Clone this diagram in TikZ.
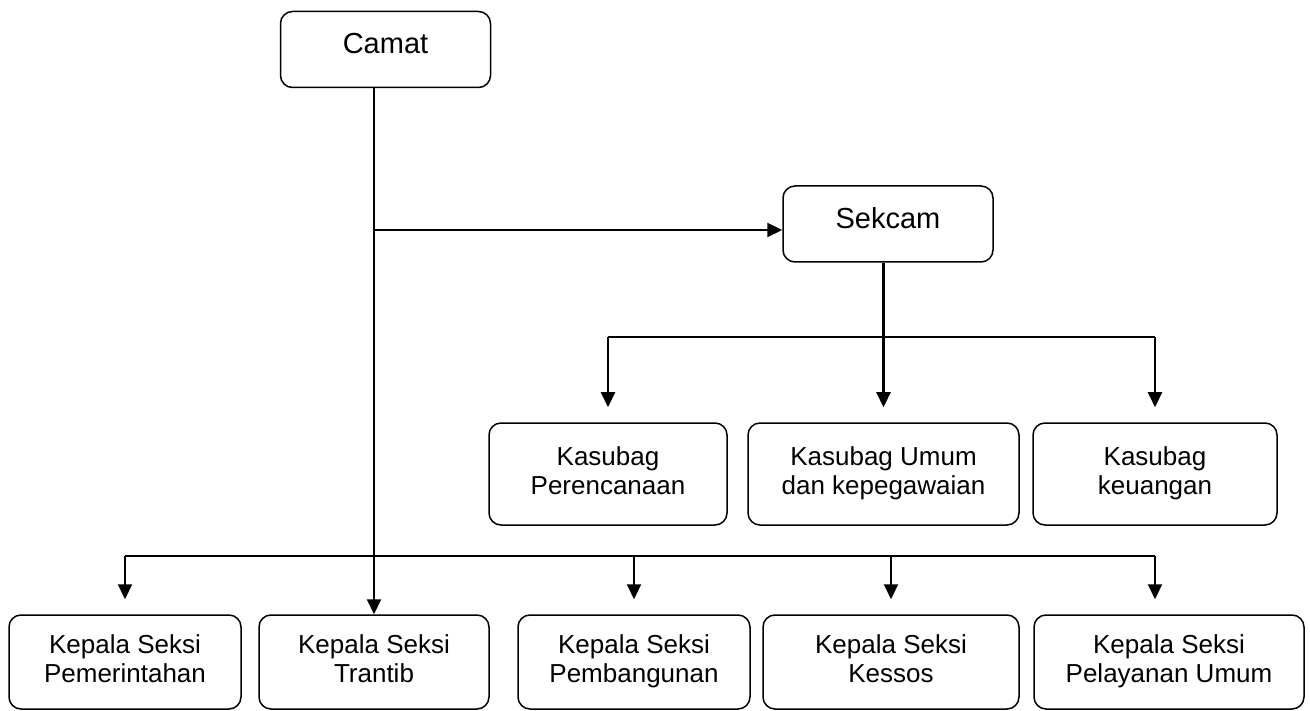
\documentclass[tikz,border=0pt]{standalone}
\usepackage{fontspec}
\setmainfont{Liberation Sans}
\usetikzlibrary{arrows.meta}
\begin{document}
	\begin{tikzpicture}[x=1pt, y=-1pt,
		box/.style={draw, line width=1.5pt, rounded corners=12pt, inner sep=0pt, align=center, text depth=6pt, font=\fontsize{26}{29}\selectfont},
		topbox/.style={box, font=\fontsize{29}{32}\selectfont, minimum width=210pt, minimum height=76pt, text depth=12pt},
		subbox/.style={box, minimum height=102pt},
		seksibox/.style={box, minimum height=94pt},
		line/.style={line width=2.2pt},
		arr/.style={line width=2.2pt, -{Triangle[length=15pt, width=14pt]}}]
		\useasboundingbox (0,0) rectangle (1310,711);
		\node [topbox] (camat) at (385.5,49.5) {Camat};
		\node [topbox] (sekcam) at (888,224) {Sekcam};
		\node [subbox, minimum width=238pt] (perenc) at (608,474) {Kasubag\\Perencanaan};
		\node [subbox, minimum width=271pt] (umum) at (883.5,474) {Kasubag Umum\\dan kepegawaian};
		\node [subbox, minimum width=244pt] (keu) at (1155,474) {Kasubag\\keuangan};
		\node [seksibox, minimum width=232pt] (pem) at (125,662) {Kepala Seksi\\Pemerintahan};
		\node [seksibox, minimum width=230pt] (trantib) at (374,662) {Kepala Seksi\\Trantib};
		\node [seksibox, minimum width=232pt] (pemb) at (634,662) {Kepala Seksi\\Pembangunan};
		\node [seksibox, minimum width=256pt] (kessos) at (891,662) {Kepala Seksi\\Kessos};
		\node [seksibox, minimum width=270pt] (pelayanan) at (1169,662) {Kepala Seksi\\Pelayanan Umum};
		\coordinate (subbus) at (0,337);
		\coordinate (seksibus) at (0,556);
		\draw [arr] (camat.south -| trantib.north) -- (trantib.north);
		\draw [arr] ([yshift=-6pt]sekcam.west -| trantib.north) -- ([yshift=-6pt]sekcam.west);
		\draw [arr, shorten >=15pt] (sekcam.south -| umum.north) -- (umum.north);
		\draw [line] (subbus -| perenc.north) -- (subbus -| keu.north);
		\foreach \n in {perenc, keu}
			\draw [arr, shorten >=15pt] (subbus -| \n.north) -- (\n.north);
		\draw [line] (seksibus -| pem.north) -- (seksibus -| keu.north);
		\foreach \n in {pem, pemb, kessos}
			\draw [arr, shorten >=15pt] (seksibus -| \n.north) -- (\n.north);
		\draw [arr, shorten >=15pt] (seksibus -| keu.north) -- (keu.north |- pelayanan.north);
	\end{tikzpicture}
\end{document}
